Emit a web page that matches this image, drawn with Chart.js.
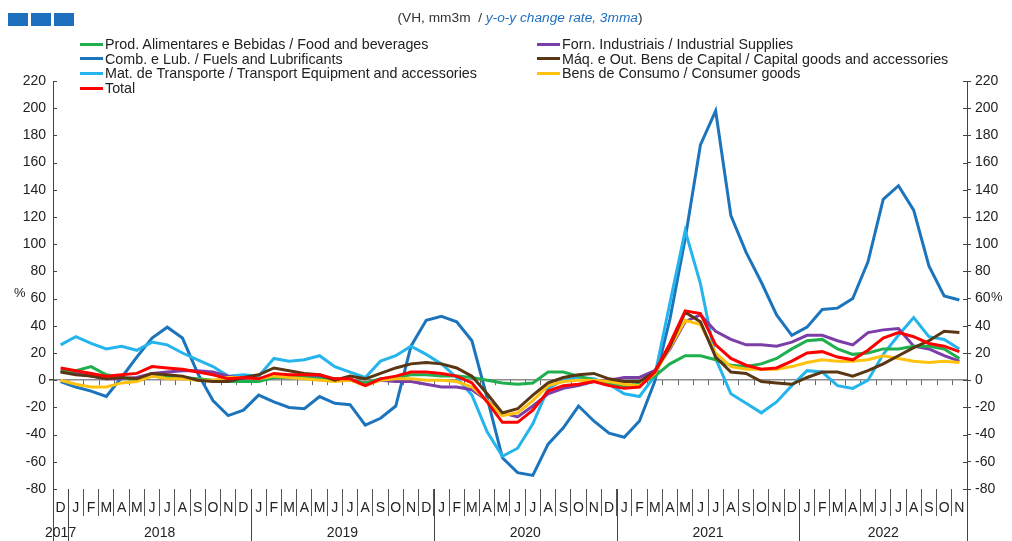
<!DOCTYPE html>
<html>
<head>
<meta charset="utf-8">
<script src="https://cdn.jsdelivr.net/npm/chart.js@4.4.1/dist/chart.umd.min.js"></script>
<style>
  body { margin: 0; background: #fff; font-family: "Liberation Sans", Arial, sans-serif; color: #222; }
  #wrap { position: relative; width: 1012px; height: 541px; }
  #chart { position: absolute; left: 0; top: 0; }
  .squares { position: absolute; top: 12px; left: 8px; }
  .squares span { display: inline-block; width: 20px; height: 13px; background: #1F6FBF; margin-right: 3px; }
  .subtitle { position: absolute; top: 10px; left: 14px; width: 1012px; text-align: center; font-size: 13.7px; color: #333; }
  .subtitle i { color: #1F6FBF; }
  .legend { position: absolute; font-size: 14.3px; color: #222; line-height: 15px; }
  .legend div { white-space: nowrap; height: 14.7px; }
  .legend b { display: inline-block; width: 23px; height: 3px; vertical-align: middle; margin-right: 2px; position: relative; top: -1px; }
  .pct { position: absolute; font-size: 13px; }
</style>
</head>
<body>
<div id="wrap">
  <canvas id="chart" width="1012" height="541"></canvas>
  <div class="squares"><span></span><span></span><span></span></div>
  <div class="subtitle">(VH, mm3m&nbsp; / <i>y-o-y change rate, 3mma</i>)</div>
  <div class="legend" id="legLeft" style="left:80px; top:37px;"></div>
  <div class="legend" id="legRight" style="left:537px; top:37px;"></div>
  <div class="pct" style="left:14px; top:285px;">%</div>
  <div class="pct" style="left:991px; top:289px;">%</div>
</div>
<script>
const months = ['D',
  'J','F','M','A','M','J','J','A','S','O','N','D',
  'J','F','M','A','M','J','J','A','S','O','N','D',
  'J','F','M','A','M','J','J','A','S','O','N','D',
  'J','F','M','A','M','J','J','A','S','O','N','D',
  'J','F','M','A','M','J','J','A','S','O','N'];
const yearNames = ['2017', '2018', '2019', '2020', '2021', '2022'];
const yearStarts = [0, 1, 13, 25, 37, 49];
const yTicks = [-80, -60, -40, -20, 0, 20, 40, 60, 80, 100, 120, 140, 160, 180, 200, 220];

const food = [6, 7, 10, 4, 2, 0, 3, 2, 2, 1, 0, -1, -1,
  -1, 2, 2, 2, 1, 1, 0, -2, 1, 2, 4, 4,
  3, 3, 2, 0, -2, -3, -2, 6, 6, 3, 0, -2,
  -4, -3, 3, 12, 18, 18, 15, 11, 10, 12, 16, 23,
  29, 30, 23, 19, 20, 23, 23, 25, 25, 23, 16];
const fuels = [-1, -5, -8, -12, 2, 17, 31, 39, 31, 5, -15, -26, -22,
  -11, -16, -20, -21, -12, -17, -18, -33, -28, -19, 25, 44,
  47, 43, 29, -13, -57, -68, -70, -47, -35, -19, -30, -39,
  -42, -30, -1, 45, 104, 173, 198, 121, 94, 72, 48, 33,
  39, 52, 53, 60, 87, 133, 143, 125, 84, 62, 59];
const transport = [26, 32, 27, 23, 25, 22, 28, 26, 20, 15, 10, 3, 4,
  3, 16, 14, 15, 18, 10, 6, 2, 14, 18, 25, 19,
  12, 2, -11, -38, -56, -50, -32, -6, 0, 2, 1, -3,
  -10, -12, 3, 57, 110, 71, 16, -10, -17, -24, -16, -4,
  7, 6, -4, -6, 0, 19, 33, 46, 32, 30, 23];
const industrial = [7, 5, 3, 1, 1, 2, 5, 6, 7, 7, 6, 3, 1,
  0, 2, 2, 2, 2, 1, 0, -2, 0, -1, -1, -3,
  -5, -5, -7, -15, -24, -27, -19, -10, -6, -4, -1, 0,
  2, 2, 7, 23, 43, 48, 36, 30, 26, 26, 25, 28,
  33, 33, 29, 26, 35, 37, 38, 25, 23, 18, 14];
const capital = [6, 4, 3, 1, 2, 1, 5, 4, 3, 0, -1, -1, 2,
  4, 9, 7, 5, 4, 0, 3, 1, 5, 9, 12, 13,
  12, 9, 3, -10, -24, -21, -11, -2, 2, 4, 5, 1,
  -1, -1, 6, 25, 50, 43, 17, 6, 5, -1, -2, -3,
  2, 6, 6, 3, 7, 12, 18, 24, 29, 36, 35];
const consumer = [0, -3, -5, -5, -2, -1, 3, 1, 1, 0, 0, 2, 2,
  1, 3, 2, 1, 0, -1, 0, -4, 0, 1, 1, 0,
  0, -1, -5, -15, -26, -24, -15, -4, -1, 0, 0, -1,
  -3, -4, 5, 24, 44, 41, 20, 10, 8, 8, 8, 10,
  13, 15, 14, 14, 15, 18, 16, 14, 13, 14, 13];
const total = [9, 7, 5, 3, 4, 5, 10, 9, 8, 6, 4, 1, 2,
  1, 5, 4, 4, 4, 1, 1, -4, 1, 3, 6, 6,
  5, 3, -2, -16, -31, -31, -22, -8, -4, -3, -1, -4,
  -6, -5, 6, 27, 51, 49, 26, 16, 11, 8, 9, 14,
  20, 21, 17, 15, 22, 31, 35, 32, 27, 25, 21];

const series = [
  { label: 'Prod. Alimentares e Bebidas / Food and beverages', data: food, color: '#1FAF4E', col: 'left', order: 3 },
  { label: 'Comb. e Lub. /  Fuels and Lubrificants', data: fuels, color: '#1C75BC', col: 'left', order: 6 },
  { label: 'Mat. de Transporte / Transport Equipment and accessories', data: transport, color: '#25B5EC', col: 'left', order: 5 },
  { label: 'Total', data: total, color: '#FF0000', col: 'left', order: 0 },
  { label: 'Forn. Industriais / Industrial Supplies', data: industrial, color: '#7B3EA9', col: 'right', order: 4 },
  { label: 'Máq. e Out. Bens de Capital / Capital goods and accessories', data: capital, color: '#5A3714', col: 'right', order: 1 },
  { label: 'Bens de Consumo / Consumer goods', data: consumer, color: '#FFC20E', col: 'right', order: 2 }
];

// html legend, two columns like the original
series.forEach(s => {
  const row = document.createElement('div');
  row.innerHTML = `<b style="background:${s.color}"></b>${s.label}`;
  document.getElementById(s.col === 'left' ? 'legLeft' : 'legRight').appendChild(row);
});

const decorations = {
  id: 'decorations',
  beforeDatasetsDraw(chart) {
    const ctx = chart.ctx;
    const x = chart.scales.x;
    const y = chart.scales.y;
    const step = x.getPixelForValue(1) - x.getPixelForValue(0);
    const y0 = y.getPixelForValue(0);
    ctx.save();
    ctx.strokeStyle = '#666';
    ctx.lineWidth = 1;
    // small ticks under the zero line
    for (let i = 0; i <= months.length; i++) {
      const px = Math.round(x.getPixelForValue(0) - step / 2 + i * step) + 0.5;
      ctx.beginPath();
      ctx.moveTo(px, y0);
      ctx.lineTo(px, y0 + 5);
      ctx.stroke();
    }
    ctx.restore();
  },
  afterDraw(chart) {
    const ctx = chart.ctx;
    const x = chart.scales.x;
    const y = chart.scales.y;
    const area = chart.chartArea;
    const step = x.getPixelForValue(1) - x.getPixelForValue(0);
    ctx.save();
    ctx.strokeStyle = '#444';
    ctx.lineWidth = 1;
    // inner half of the axis tick marks
    yTicks.forEach(v => {
      const py = Math.round(y.getPixelForValue(v)) + 0.5;
      ctx.beginPath();
      ctx.moveTo(area.left, py); ctx.lineTo(area.left + 4, py);
      ctx.moveTo(area.right, py); ctx.lineTo(area.right - 4, py);
      ctx.stroke();
    });
    // axis lines run down to the bottom
    [area.left, area.right].forEach(px => {
      ctx.beginPath();
      ctx.moveTo(Math.round(px) + 0.5, area.top);
      ctx.lineTo(Math.round(px) + 0.5, chart.height);
      ctx.stroke();
    });
    // year separators and labels
    ctx.fillStyle = '#222';
    ctx.font = '14px "Liberation Sans", Arial, sans-serif';
    ctx.textAlign = 'center';
    ctx.textBaseline = 'middle';
    yearNames.forEach((name, k) => {
      const first = yearStarts[k];
      const last = k + 1 < yearStarts.length ? yearStarts[k + 1] - 1 : months.length - 1;
      const cx = (x.getPixelForValue(first) + x.getPixelForValue(last)) / 2;
      ctx.fillText(name, cx, 533);
      if (k > 0) {
        const px = Math.round(x.getPixelForValue(first) - step / 2) + 0.5;
        ctx.beginPath();
        ctx.moveTo(px, area.bottom);
        ctx.lineTo(px, chart.height);
        ctx.stroke();
      }
    });
    ctx.restore();
  }
};

new Chart(document.getElementById('chart'), {
  type: 'line',
  data: {
    labels: months,
    datasets: series.map(s => ({
      label: s.label,
      data: s.data,
      borderColor: s.color,
      backgroundColor: s.color,
      borderWidth: 3,
      pointRadius: 0,
      tension: 0,
      order: s.order
    }))
  },
  options: {
    responsive: false,
    animation: false,
    layout: { padding: { top: 81, left: 0, right: 0, bottom: 0 } },
    plugins: { legend: { display: false }, tooltip: { enabled: false } },
    scales: {
      x: {
        offset: true,
        afterFit: s => { s.height = 52; },
        border: { display: false },
        grid: { offset: true, drawOnChartArea: false, tickLength: 27, tickColor: '#555' },
        ticks: { autoSkip: false, maxRotation: 0, padding: -16, color: '#222', font: { size: 14, family: '"Liberation Sans", Arial, sans-serif' } }
      },
      y: {
        position: 'left',
        min: -80, max: 220,
        afterFit: s => { s.width = 53; },
        afterBuildTicks: s => { s.ticks = yTicks.map(v => ({ value: v })); },
        border: { display: false },
        grid: {
          color: c => (c.tick && c.tick.value === 0 ? '#8c8c8c' : 'rgba(0,0,0,0)'),
          lineWidth: c => (c.tick && c.tick.value === 0 ? 1.5 : 0),
          tickColor: '#444', tickLength: 4
        },
        ticks: { padding: 3, color: '#222', font: { size: 14, family: '"Liberation Sans", Arial, sans-serif' } }
      },
      y2: {
        position: 'right',
        min: -80, max: 220,
        afterFit: s => { s.width = 45; },
        afterBuildTicks: s => { s.ticks = yTicks.map(v => ({ value: v })); },
        border: { display: false },
        grid: { drawOnChartArea: false, tickColor: '#444', tickLength: 4 },
        ticks: { padding: 4, color: '#222', font: { size: 14, family: '"Liberation Sans", Arial, sans-serif' } }
      }
    }
  },
  plugins: [decorations]
});
</script>
</body>
</html>
